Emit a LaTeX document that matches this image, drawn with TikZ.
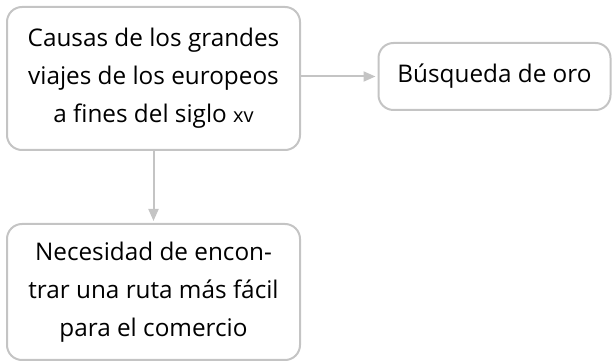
\documentclass[tikz,border=0pt]{standalone}
\usepackage{fontspec}
\setmainfont{Open Sans}
\usetikzlibrary{arrows.meta}
\definecolor{boxgray}{HTML}{C4C4C4}
\tikzstyle{box}=[
  draw=boxgray,
  line width=2pt,
  rounded corners=15pt,
  align=center,
  inner sep=0pt,
  font=\fontsize{24.3}{38}\selectfont,
  ]
\tikzstyle{link}=[ line width=2pt, boxgray, -{Triangle[length=12pt,width=10pt]}, shorten >=2pt ]

\begin{document}
\begin{tikzpicture}[
    x=1pt,
    y=-1pt,
    ]
    \useasboundingbox (0,0) rectangle (616,363);
    \node[box, minimum width=293pt, minimum height=143pt] (causas) at (153.5,78.5)
      {Causas de los grandes\\viajes de los europeos\\a fines del siglo {\fontsize{20}{38}\selectfont xv}};
    \node[box, minimum width=232pt, minimum height=67pt] (oro) at (494.5,76.5) {Búsqueda de oro};
    \node[box, minimum width=293pt, minimum height=136pt] (ruta) at (153.5,292)
      {Necesidad de encon-\\trar una ruta más fácil\\para el comercio};

    \draw[link] (causas.east |- oro.west) -- (oro.west);
    \draw[link] (causas) -- (ruta);
  \end{tikzpicture}
\end{document}
